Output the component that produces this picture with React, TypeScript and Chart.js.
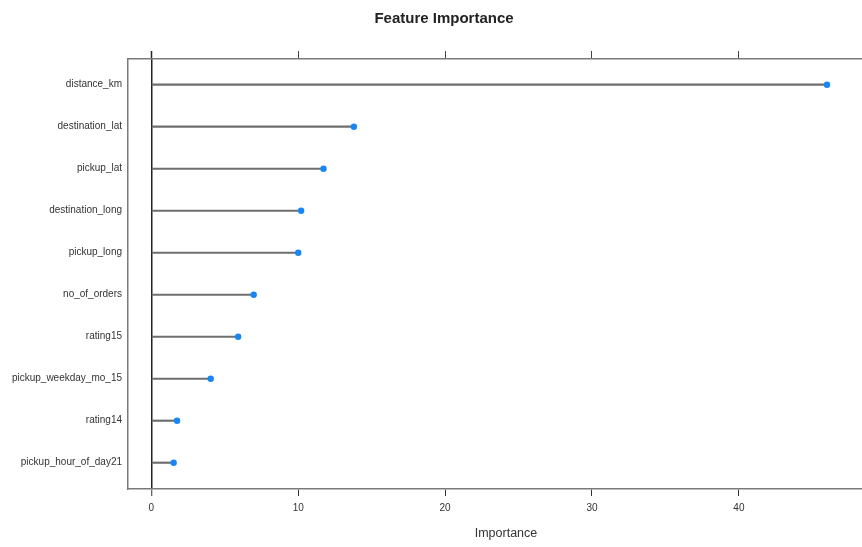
import React, { useEffect, useRef } from "react";
import { Chart, registerables } from "chart.js";

Chart.register(...registerables);

const features = [
  "distance_km",
  "destination_lat",
  "pickup_lat",
  "destination_long",
  "pickup_long",
  "no_of_orders",
  "rating15",
  "pickup_weekday_mo_15",
  "rating14",
  "pickup_hour_of_day21",
];
const importance = [46.0, 13.79, 11.72, 10.2, 10.0, 6.97, 5.91, 4.04, 1.75, 1.52];
const xTickValues = [0, 10, 20, 30, 40];
const chartTitle = "Feature Importance";
const xTitle = "Importance";

const FONT = "'Liberation Sans', Arial, Helvetica, sans-serif";
const X_MIN = -1.59;
const X_MAX = 49.88;

export default function App() {
  const ref = useRef<HTMLCanvasElement | null>(null);
  useEffect(() => {
    const canvas = ref.current;
    if (!canvas) return;
    const points = importance.map((v, i) => ({ x: v, y: i + 1 }));
    const setXTicks = (s: any) => {
      s.ticks = xTickValues.map((v) => ({ value: v }));
    };
    const chart = new Chart(canvas, {
      type: "bar",
      data: {
        datasets: [
          {
            type: "scatter",
            data: points,
            pointRadius: 3.2,
            pointBackgroundColor: "#1a86f5",
            pointBorderWidth: 0,
            borderColor: "#1a86f5",
          } as any,
          {
            type: "bar",
            data: points,
            backgroundColor: "#6e6e6e",
            barThickness: 1.5,
            borderWidth: 0,
          } as any,
        ],
      },
      options: {
        responsive: false,
        animation: false,
        indexAxis: "y",
        layout: { padding: { left: 0, right: 0, top: 0, bottom: 2 } },
        plugins: {
          legend: { display: false },
          tooltip: { enabled: false },
          title: {
            display: true,
            text: chartTitle,
            color: "#222",
            font: { family: FONT, size: 15, weight: "bold", lineHeight: 1.2 },
            padding: { top: 10, bottom: 23 },
          },
        },
        scales: {
          x: {
            type: "linear",
            position: "bottom",
            min: X_MIN,
            max: X_MAX,
            offset: false,
            afterBuildTicks: setXTicks,
            ticks: {
              color: "#333",
              padding: 6,
              font: { family: FONT, size: 10 },
            },
            grid: {
              drawOnChartArea: true,
              drawTicks: true,
              tickLength: 7,
              tickColor: "#333",
              tickWidth: 1,
              color: (ctx: any) => (ctx.tick && ctx.tick.value === 0 ? "#222" : "rgba(0,0,0,0)"),
              lineWidth: (ctx: any) => (ctx.tick && ctx.tick.value === 0 ? 1.5 : 1),
            },
            border: { display: true, color: "#7a7a7a", width: 1.5 },
            title: {
              display: true,
              text: xTitle,
              color: "#333",
              font: { family: FONT, size: 12.5, lineHeight: 1.2 },
            },
            afterFit: (s: any) => {
              s.height = 56;
            },
          },
          x2: {
            type: "linear",
            position: "top",
            min: X_MIN,
            max: X_MAX,
            offset: false,
            afterBuildTicks: setXTicks,
            ticks: { display: false },
            grid: {
              drawOnChartArea: false,
              drawTicks: true,
              tickLength: 8,
              tickColor: (ctx: any) => (ctx.tick && ctx.tick.value === 0 ? "#222" : "#444"),
              tickWidth: (ctx: any) => (ctx.tick && ctx.tick.value === 0 ? 1.5 : 1),
              color: "rgba(0,0,0,0)",
            },
            border: { display: true, color: "#7a7a7a", width: 1.5 },
            afterFit: (s: any) => {
              s.height = 8;
            },
          },
          y: {
            type: "linear",
            reverse: true,
            offset: false,
            min: 0.388,
            max: 10.626,
            afterBuildTicks: (s: any) => {
              s.ticks = features.map((_, i) => ({ value: i + 1 }));
            },
            ticks: {
              autoSkip: false,
              padding: 6,
              color: "#333",
              font: { family: FONT, size: 10 },
              callback: (v: any) => features[Math.round(Number(v)) - 1] ?? "",
            },
            grid: { display: true, drawTicks: false, color: "rgba(0,0,0,0)" },
            border: { display: true, color: "#7a7a7a", width: 1.5 },
            afterFit: (s: any) => {
              s.width = 128;
            },
          },
        },
      } as any,
    });
    return () => chart.destroy();
  }, []);
  return (
    <div
      style={{
        position: "fixed",
        left: 0,
        top: 0,
        width: 862,
        height: 547,
        overflow: "hidden",
        background: "#fff",
      }}
    >
      <canvas ref={ref} width={888} height={547} style={{ width: 888, height: 547, display: "block" }} />
    </div>
  );
}
